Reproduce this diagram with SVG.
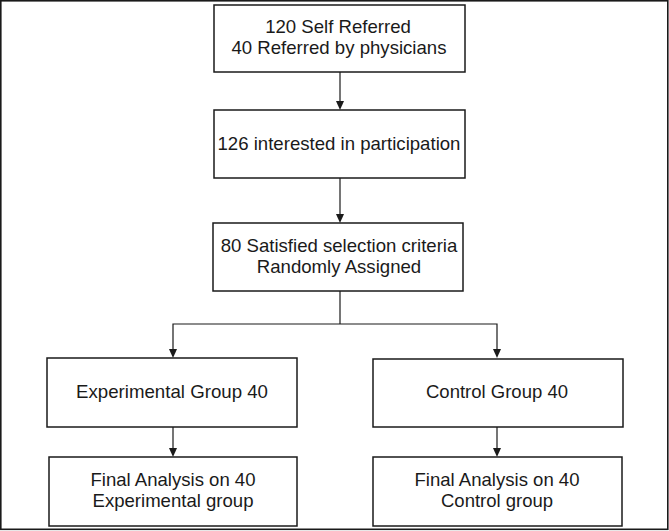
<svg xmlns="http://www.w3.org/2000/svg" width="669" height="531" viewBox="0 0 669 531">
<defs>
<style>
.box{fill:#fff;stroke:#1a1a1a;stroke-width:1.5}
.t{font-family:"Liberation Sans",Arial,sans-serif;font-size:18.6px;fill:#1a1a1a;text-anchor:middle}
.n{font-family:"Liberation Sans",Arial,sans-serif;font-size:18.5px;fill:#1a1a1a;text-anchor:middle}
.c{fill:none;stroke:#1a1a1a;stroke-width:1.2}
.ah{fill:#1a1a1a}
</style>
</defs>
<rect x="0" y="0" width="669" height="531" fill="#fff"/>
<rect x="0.8" y="0.8" width="667" height="528.5" fill="none" stroke="#1a1a1a" stroke-width="1.6"/>
<g id="connectors">
<line class="c" x1="340" y1="72" x2="340" y2="101"/>
<path class="ah" d="M336,101 L344,101 L340,110 Z"/>
<line class="c" x1="340" y1="178" x2="340" y2="214"/>
<path class="ah" d="M336,214 L344,214 L340,223 Z"/>
<polyline class="c" points="340,291 340,324"/>
<polyline class="c" points="173,349 173,324 497,324 497,349"/>
<path class="ah" d="M169,349 L177,349 L173,358 Z"/>
<path class="ah" d="M493,349 L501,349 L497,358 Z"/>
<line class="c" x1="173" y1="427" x2="173" y2="448"/>
<path class="ah" d="M169,448 L177,448 L173,457 Z"/>
<line class="c" x1="497" y1="427" x2="497" y2="448"/>
<path class="ah" d="M493,448 L501,448 L497,457 Z"/>
</g>
<g id="n1">
<rect class="box" x="214" y="5" width="251" height="67"/>
<text class="t" x="338" y="33">120 Self Referred</text>
<text class="t" x="339" y="54">40 Referred by physicians</text>
</g>
<g id="n2">
<rect class="box" x="214" y="110" width="251" height="68"/>
<text class="t" x="339" y="150">126 interested in participation</text>
</g>
<g id="n3">
<rect class="box" x="213" y="223" width="250" height="68"/>
<text class="t" x="339" y="252">80 Satisfied selection criteria</text>
<text class="t" x="339" y="273">Randomly Assigned</text>
</g>
<g id="n4">
<rect class="box" x="47" y="358" width="250" height="69"/>
<text class="n" x="172" y="398" textLength="192" lengthAdjust="spacingAndGlyphs">Experimental Group 40</text>
</g>
<g id="n5">
<rect class="box" x="373" y="359" width="250" height="68"/>
<text class="n" x="497" y="398" textLength="142" lengthAdjust="spacingAndGlyphs">Control Group 40</text>
</g>
<g id="n6">
<rect class="box" x="49" y="457" width="248" height="69"/>
<text class="n" x="173" y="486" textLength="165" lengthAdjust="spacingAndGlyphs">Final Analysis on 40</text>
<text class="n" x="173" y="507" textLength="161" lengthAdjust="spacingAndGlyphs">Experimental group</text>
</g>
<g id="n7">
<rect class="box" x="373" y="457" width="249" height="69"/>
<text class="n" x="497" y="486" textLength="165" lengthAdjust="spacingAndGlyphs">Final Analysis on 40</text>
<text class="n" x="497" y="507" textLength="112" lengthAdjust="spacingAndGlyphs">Control group</text>
</g>
</svg>
